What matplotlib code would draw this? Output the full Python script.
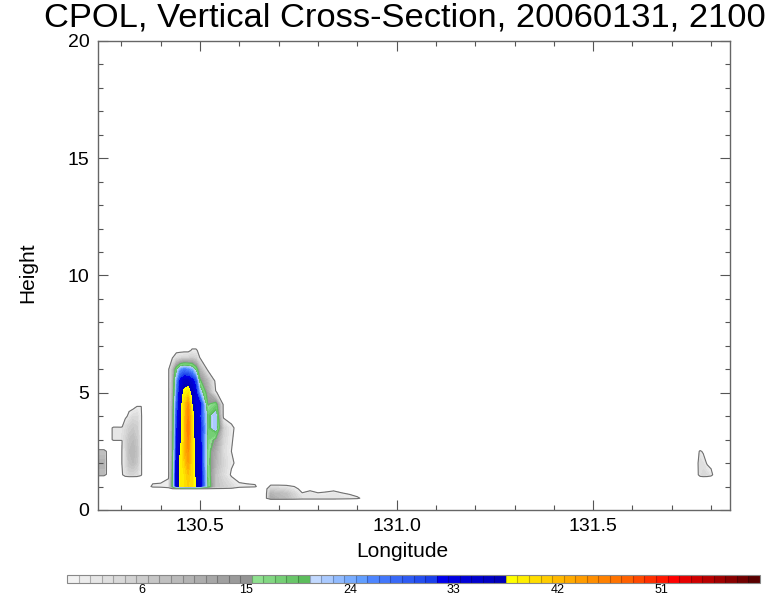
import numpy as np
import matplotlib.pyplot as plt
from matplotlib.colors import ListedColormap, BoundaryNorm
import matplotlib as mpl

plt.rcParams['font.family'] = ['Liberation Sans', 'DejaVu Sans']

# ---- reflectivity (dBZ) ----

# main convective cell
cell_lon = [130.36, 130.38, 130.40, 130.42, 130.43, 130.44, 130.45, 130.46, 130.47, 130.48,
            130.49, 130.50, 130.52, 130.54, 130.56, 130.58, 130.60, 130.62, 130.64, 130.66]
cell_hgt = [0.9, 1.0, 1.5, 2.0, 2.5, 3.0, 3.5, 4.0, 4.5, 5.0, 5.5, 6.0, 6.5, 6.8, 7.0]
cell_dbz = [
    [0, 0, 0, 0, 0, 0, 0, 0, 0, 0, 0, 0, 0, 0, 0, 0, 0, 0, 0, 0],
    [0, 1.3, 1.4, 2, 16, 35, 39, 40, 41, 40, 38, 36, 19, 8, 6, 4, 1.5, 1.3, 1.2, 0],
    [0, 0, 0, 0.5, 15, 35, 39, 40, 42, 40, 37, 36, 18, 8, 4, 0.5, 0, 0, 0, 0],
    [0, 0, 0, 0.5, 14, 34, 39, 41, 44, 40, 37, 35, 17, 10, 5, 1.5, 0, 0, 0, 0],
    [0, 0, 0, 0.5, 13, 33, 38, 42, 45, 40, 36, 35, 17, 11, 4, 1, 0, 0, 0, 0],
    [0, 0, 0, 0.5, 13, 32, 37, 41, 46, 40, 36, 34, 18, 14, 5, 1.2, 0, 0, 0, 0],
    [0, 0, 0, 0.5, 12, 31, 37, 41, 47, 40, 35, 34, 19, 23, 6, 1.5, 0, 0, 0, 0],
    [0, 0, 0, 0.5, 12, 30, 36, 41, 46, 40, 35, 32, 19, 23, 0, 0, 0, 0, 0, 0],
    [0, 0, 0, 0.5, 11, 28, 36, 41, 45, 38, 34, 33.5, 15, 18, 0, 0, 0, 0, 0, 0],
    [0, 0, 0, 0.5, 10, 26, 35, 39, 40, 37, 33, 24, 12, 1.2, 0, 0, 0, 0, 0, 0],
    [0, 0, 0, 0.5, 9, 24, 33, 36, 36, 34, 30, 16, 9, 0, 0, 0, 0, 0, 0, 0],
    [0, 0, 0, 0.5, 8, 18, 25, 27, 26, 24, 18, 10, 0, 0, 0, 0, 0, 0, 0, 0],
    [0, 0, 0, 0, 0.8, 3, 4, 5, 5, 6, 5, 0.8, 0, 0, 0, 0, 0, 0, 0, 0],
    [0, 0, 0, 0, 0, 0, 0, 0, 0, 1.5, 1.5, 0, 0, 0, 0, 0, 0, 0, 0, 0],
    [0, 0, 0, 0, 0, 0, 0, 0, 0, 0, 0, 0, 0, 0, 0, 0, 0, 0, 0, 0],
]

# low stratiform layer east of the cell
low_lon = [130.668, 130.68, 130.70, 130.72, 130.74, 130.76, 130.78, 130.80,
           130.82, 130.84, 130.86, 130.88, 130.90, 130.92]
low_hgt = [0.45, 0.5, 0.7, 0.9, 1.1]
low_dbz = [
    [0, 0, 0, 0, 0, 0, 0, 0, 0, 0, 0, 0, 0, 0],
    [0, 12, 10, 9, 6, 3, 3, 3, 3, 3, 2.5, 2, 1.5, 0],
    [0, 10, 9, 8, 5, 1.2, 2.5, 1.2, 1.5, 2.3, 1.2, 0.8, 0, 0],
    [0, 5, 5, 4, 2, 0, 0, 0, 0, 0, 0, 0, 0, 0],
    [0, 0, 0, 0, 0, 0, 0, 0, 0, 0, 0, 0, 0, 0],
]

# small echo at the western edge
west_lon = [130.235, 130.242, 130.256, 130.263]
west_hgt = [1.45, 1.52, 2.0, 2.5, 2.58]
west_dbz = [
    [0, 0, 0, 0],
    [0, 9, 9, 0],
    [0, 11, 11, 0],
    [0, 8, 8, 0],
    [0, 0, 0, 0],
]

# bell shaped echo west of the cell
bell_lon = [130.275, 130.28, 130.29, 130.30, 130.31, 130.32, 130.33, 130.34, 130.35, 130.355]
bell_hgt = [1.4, 1.5, 2.0, 2.5, 2.95, 3.0, 3.5, 3.55, 4.0, 4.4, 4.5]
bell_dbz = [
    [0, 0, 0, 0, 0, 0, 0, 0, 0, 0],
    [0, 0, 0, 0, 3, 5, 5, 4, 1.5, 0],
    [0, 0, 0, 0.5, 4, 8, 9, 7, 1.5, 0],
    [0, 0, 0, 0.5, 4, 9, 10, 8, 1.5, 0],
    [0, 0, 0, 0, 5, 8, 9, 7, 1.5, 0],
    [0, 3, 3, 3, 5, 8, 9, 7, 1.5, 0],
    [0, 3, 3, 2.5, 4, 6, 7, 6, 1.5, 0],
    [0, 0, 0, 0, 4, 6, 7, 6, 1.5, 0],
    [0, 0, 0, 0, 0, 2, 4, 4, 1.5, 0],
    [0, 0, 0, 0, 0, 0, 0, 1.2, 1.2, 0],
    [0, 0, 0, 0, 0, 0, 0, 0, 0, 0],
]

# thin echo near the eastern edge
east_lon = [131.765, 131.772, 131.78, 131.79, 131.80, 131.808]
east_hgt = [1.4, 1.5, 2.0, 2.5, 2.6]
east_dbz = [
    [0, 0, 0, 0, 0, 0],
    [0, 3, 5, 4, 2, 0],
    [0, 4, 3, 0.5, 0, 0],
    [0, 1.5, 0.5, 0, 0, 0],
    [0, 0, 0, 0, 0, 0],
]

# colour bar
bar_ticks = [6, 15, 24, 33, 42, 51]
n_boxes = 60


# colour table: grey 0-15, green 16-20, blue 21-31, dark blue 32-37, yellow->dark red 38-59
def ramp(c0, c1, n):
    c0 = np.array(c0)
    c1 = np.array(c1)
    return [tuple(c0 + (c1 - c0) * i / max(n - 1, 1)) for i in range(n)]


box_colors = (ramp((0.95, 0.95, 0.95), (0.58, 0.58, 0.58), 16)
              + ramp((0.56, 0.88, 0.56), (0.36, 0.74, 0.36), 5)
              + ramp((0.76, 0.85, 1.0), (0.38, 0.62, 1.0), 5)
              + ramp((0.30, 0.52, 1.0), (0.10, 0.25, 0.92), 6)
              + ramp((0.0, 0.0, 0.92), (0.0, 0.0, 0.72), 6)
              + ramp((1.0, 1.0, 0.0), (1.0, 0.80, 0.0), 4)
              + ramp((1.0, 0.72, 0.0), (1.0, 0.45, 0.0), 6)
              + ramp((1.0, 0.38, 0.0), (1.0, 0.0, 0.0), 5)
              + ramp((0.9, 0.0, 0.0), (0.35, 0.0, 0.0), 7))

fill_levels = np.arange(1, n_boxes + 1)

fig = plt.figure(figsize=(7.81, 5.98), dpi=100)
ax = fig.add_axes([0.1251, 0.1472, 0.8096, 0.7843])

for lon, hgt, dbz in [(cell_lon, cell_hgt, cell_dbz), (low_lon, low_hgt, low_dbz),
                      (west_lon, west_hgt, west_dbz), (bell_lon, bell_hgt, bell_dbz),
                      (east_lon, east_hgt, east_dbz)]:
    z = np.array(dbz)
    ax.contourf(lon, hgt, z, levels=fill_levels, colors=box_colors[1:])
    ax.contour(lon, hgt, z, levels=[1], colors='#707070', linewidths=0.8)
    ax.contour(lon, hgt, z, levels=[15], colors='#5cbf5c', linewidths=0.9)
    ax.contour(lon, hgt, z, levels=[21], colors='#a8c4f4', linewidths=0.6)

ax.set_xlim(130.24, 131.848)
ax.set_ylim(0, 20)
ax.set_xticks([130.5, 131.0, 131.5])
ax.set_xticklabels(['130.5', '131.0', '131.5'])
ax.set_xticks(np.arange(130.3, 131.85, 0.1), minor=True)
ax.set_yticks([0, 5, 10, 15, 20])
ax.set_yticks(np.arange(0, 21, 1), minor=True)
ax.tick_params(which='both', direction='in', top=True, right=True, color='#555555', width=0.8)
ax.tick_params(which='major', length=7, labelsize=14, pad=6)
ax.tick_params(which='minor', length=3.5)
for s in ax.spines.values():
    s.set_color('#666666')
    s.set_linewidth(1.0)

ax.set_xlabel('Longitude', fontsize=15)
ax.xaxis.set_label_coords(0.481, -0.068)
ax.set_ylabel('Height', fontsize=15)
ax.yaxis.set_label_coords(-0.095, 0.505)
fig.text(0.518, 0.97, 'CPOL, Vertical Cross-Section, 20060131, 2100', fontsize=24.8,
         ha='center', va='center')

# colour bar along the bottom
cax = fig.add_axes([0.0858, 0.0251, 0.8873, 0.0134])
cmap = ListedColormap(box_colors)
norm = BoundaryNorm(np.arange(0, n_boxes + 1), n_boxes)
cb = fig.colorbar(mpl.cm.ScalarMappable(norm=norm, cmap=cmap), cax=cax,
                  orientation='horizontal', drawedges=True)
cb.dividers.set_color((0, 0, 0, 0.25))
cb.dividers.set_linewidth(0.8)
cb.outline.set_edgecolor('#888888')
cb.outline.set_linewidth(0.8)
cb.set_ticks([t + 0.5 for t in bar_ticks])
cb.set_ticklabels([str(t) for t in bar_ticks])
cax.minorticks_off()
cax.tick_params(length=0, labelsize=9, pad=1)

plt.savefig('out.png', dpi=100)
